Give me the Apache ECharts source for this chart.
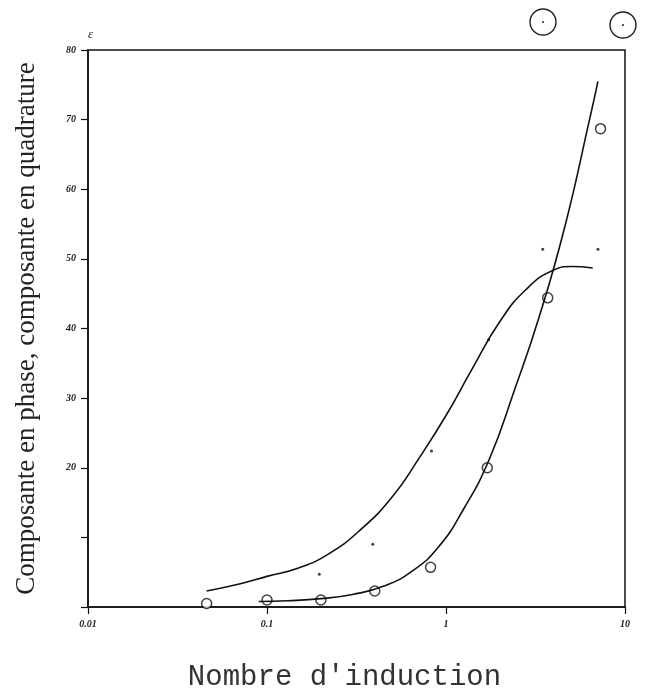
<!DOCTYPE html>
<html>
<head>
<meta charset="utf-8">
<script src="https://cdn.jsdelivr.net/npm/echarts@6/dist/echarts.min.js"></script>
<style>html,body{margin:0;padding:0;background:#fff;}#c{width:652px;height:697px;}</style>
</head>
<body>
<div id="c"></div>
<script>
// Measured points: in-phase component (dots)
const phaseX = [0.196, 0.39, 0.83, 1.73, 3.47, 7.06];
const phaseY = [4.7, 9, 22.4, 38.4, 51.4, 51.4];
// Measured points: quadrature component (open circles)
const quadX = [0.046, 0.1, 0.2, 0.4, 0.82, 1.7, 3.7, 7.3];
const quadY = [0.5, 1, 1, 2.3, 5.7, 20, 44.4, 68.7];
// Hand-drawn fitted curve through in-phase points
const phaseCurveX = [0.046, 0.07, 0.1, 0.15, 0.22, 0.33, 0.5, 0.7, 1.0, 1.4, 2.0, 2.8, 4.0, 5.0, 6.6];
const phaseCurveY = [2.3, 3.3, 4.4, 5.6, 7.6, 11.0, 15.8, 21.2, 27.5, 34.2, 41.0, 45.6, 48.4, 48.9, 48.7];
// Hand-drawn fitted curve through quadrature points
const quadCurveX = [0.09, 0.13, 0.2, 0.3, 0.45, 0.65, 0.9, 1.25, 1.75, 2.4, 3.3, 4.6, 6.4, 7.06];
const quadCurveY = [0.8, 0.9, 1.2, 1.8, 3.0, 5.2, 8.5, 14.0, 21.3, 31.0, 41.5, 54.5, 70.5, 75.5];
// Axis ticks
const yLabelShown = [20, 30, 40, 50, 60, 70, 80];

const zip = (xs, ys) => xs.map((x, i) => [x, ys[i]]);

const chart = echarts.init(document.getElementById('c'), null, {renderer: 'canvas'});
chart.setOption({
  backgroundColor: '#fff',
  animation: false,
  grid: {left: 88, right: 27, top: 50, bottom: 87, show: true, borderColor: '#111', borderWidth: 1.5, backgroundColor: 'transparent'},
  xAxis: {
    type: 'log', logBase: 10, min: 0.01, max: 10,
    name: "Nombre d'induction", nameLocation: 'middle', nameGap: 56,
    nameTextStyle: {fontFamily: 'Liberation Mono', fontSize: 29, color: '#333', padding: [0, 24, 0, 0]},
    axisLine: {show: true, lineStyle: {color: '#111', width: 1.5}},
    axisTick: {show: true, inside: false, length: 7, lineStyle: {color: '#111', width: 1.2}},
    axisLabel: {fontFamily: 'Liberation Serif', fontStyle: 'italic', fontWeight: 'bold', fontSize: 10, color: '#222', margin: 12,
      formatter: v => String(v)},
    splitLine: {show: false}, minorTick: {show: false}
  },
  yAxis: {
    type: 'value', min: 0, max: 80, interval: 10,
    name: 'Composante en phase, composante en quadrature', nameLocation: 'middle', nameGap: 48,
    nameTextStyle: {fontFamily: 'Liberation Serif', fontSize: 27, color: '#222'},
    axisLine: {show: true, lineStyle: {color: '#111', width: 1.5}},
    axisTick: {show: true, length: 7, lineStyle: {color: '#111', width: 1.2}},
    axisLabel: {fontFamily: 'Liberation Serif', fontStyle: 'italic', fontWeight: 'bold', fontSize: 10, color: '#222', margin: 12,
      formatter: v => yLabelShown.indexOf(v) >= 0 ? String(v) : ''},
    splitLine: {show: false}
  },
  graphic: [
    {type: 'text', left: 88, top: 28, style: {text: 'ε', font: 'italic 13px "Liberation Serif"', fill: '#222'}},
    {type: 'circle', shape: {cx: 543, cy: 22, r: 13}, style: {fill: 'none', stroke: '#222', lineWidth: 1.4}},
    {type: 'circle', shape: {cx: 543, cy: 22, r: 1}, style: {fill: '#222'}},
    {type: 'circle', shape: {cx: 623, cy: 25, r: 13}, style: {fill: 'none', stroke: '#222', lineWidth: 1.4}},
    {type: 'circle', shape: {cx: 623, cy: 25, r: 1}, style: {fill: '#222'}}
  ],
  series: [
    {type: 'line', name: 'phase fit', data: zip(phaseCurveX, phaseCurveY), smooth: 0.5, showSymbol: false,
      lineStyle: {color: '#111', width: 1.6}},
    {type: 'line', name: 'quad fit', data: zip(quadCurveX, quadCurveY), smooth: 0.5, showSymbol: false,
      lineStyle: {color: '#111', width: 1.6}},
    {type: 'scatter', name: 'phase', data: zip(phaseX, phaseY), symbol: 'circle', symbolSize: 3,
      itemStyle: {color: '#111'}},
    {type: 'scatter', name: 'quad', data: zip(quadX, quadY), symbol: 'circle', symbolSize: 10,
      itemStyle: {color: '#fff', borderColor: '#111', borderWidth: 1.5}}
  ]
});
</script>
</body>
</html>
